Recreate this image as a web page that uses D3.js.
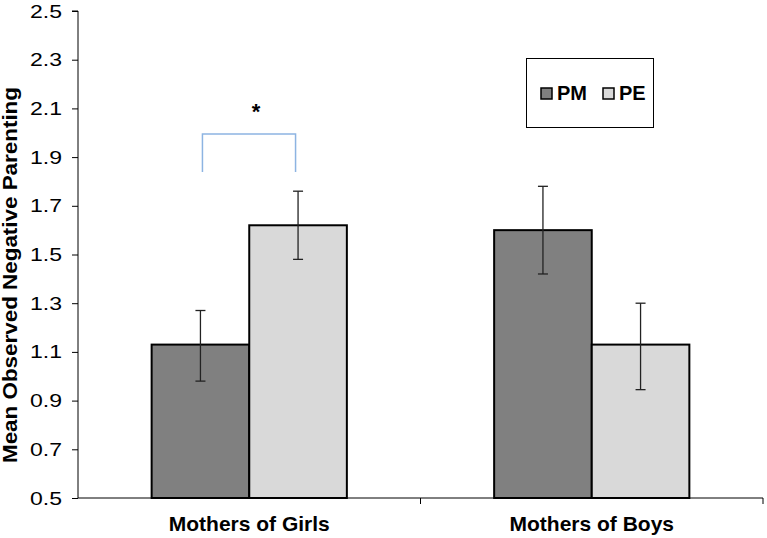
<!DOCTYPE html>
<html><head><meta charset="utf-8">
<script src="https://cdn.jsdelivr.net/npm/d3@7"></script>
<style>body{margin:0;background:#fff}svg{display:block}text{font-family:"Liberation Sans",Arial,sans-serif}</style>
</head><body><svg id="c" width="767" height="538"></svg>
<script>
const categories = ["Mothers of Girls", "Mothers of Boys"];
const seriesNames = ["PM", "PE"];
const pmValues = [1.13, 1.60];
const peValues = [1.62, 1.13];
const pmErrLow = [0.98, 1.42];
const pmErrHigh = [1.27, 1.78];
const peErrLow = [1.48, 0.945];
const peErrHigh = [1.76, 1.30];
const yTicks = [0.5, 0.7, 0.9, 1.1, 1.3, 1.5, 1.7, 1.9, 2.1, 2.3, 2.5];
const colors = ["#808080", "#d9d9d9"];

(function () {
const svg = d3.select("#c");
const mL = 78, mR = 763, mT = 11, mB = 498;
const y = d3.scaleLinear().domain([0.5, 2.5]).range([mB, mT]);
const x0 = d3.scaleBand().domain(categories).range([mL, mR]).paddingInner(0).paddingOuter(0);
const innerPad = 0.215;
const x1 = d3.scaleBand().domain(seriesNames).range([x0.bandwidth()*innerPad, x0.bandwidth()*(1-innerPad)]).padding(0);

const data = [];
categories.forEach((c, i) => {
  data.push({cat: c, s: "PM", v: pmValues[i], lo: pmErrLow[i], hi: pmErrHigh[i], col: colors[0]});
  data.push({cat: c, s: "PE", v: peValues[i], lo: peErrLow[i], hi: peErrHigh[i], col: colors[1]});
});

// bars
svg.append("g").selectAll("rect").data(data).join("rect")
  .attr("x", d => x0(d.cat) + x1(d.s))
  .attr("y", d => y(d.v))
  .attr("width", x1.bandwidth())
  .attr("height", d => y(0.5) - y(d.v))
  .attr("fill", d => d.col)
  .attr("stroke", "#000").attr("stroke-width", 2);

// error bars
const eb = svg.append("g").attr("stroke", "#222").attr("stroke-width", 1.3);
data.forEach(d => {
  const cx = x0(d.cat) + x1(d.s) + x1.bandwidth()/2;
  eb.append("line").attr("x1", cx).attr("x2", cx).attr("y1", y(d.lo)).attr("y2", y(d.hi));
  eb.append("line").attr("x1", cx-5).attr("x2", cx+5).attr("y1", y(d.lo)).attr("y2", y(d.lo));
  eb.append("line").attr("x1", cx-5).attr("x2", cx+5).attr("y1", y(d.hi)).attr("y2", y(d.hi));
});

// y axis
const yAxis = d3.axisLeft(y).tickValues(yTicks).tickFormat(d3.format(".1f")).tickSize(6).tickPadding(10);
const gy = svg.append("g").attr("transform", `translate(${mL},0)`).call(yAxis);
gy.select(".domain").attr("stroke", "#000").attr("d", `M-6,${mT}H0V${mB}`);
gy.selectAll(".tick line").attr("stroke", "#000");
gy.selectAll("text").attr("font-size", 19).attr("fill", "#000")
  .attr("font-family", "Liberation Sans, Arial, sans-serif")
  .attr("textLength", 32).attr("lengthAdjust", "spacingAndGlyphs");

// x axis
const gx = svg.append("g").attr("transform", `translate(0,${mB})`);
gx.append("line").attr("x1", mL).attr("x2", mR).attr("y1", 0).attr("y2", 0).attr("stroke", "#000");
[mL + x0.bandwidth(), mR].forEach(t => gx.append("line").attr("x1", t).attr("x2", t).attr("y1", 0).attr("y2", 6).attr("stroke", "#000"));
gx.selectAll("text.cat").data(categories).join("text").attr("class", "cat")
  .attr("x", d => x0(d) + x0.bandwidth()/2).attr("y", 33)
  .attr("text-anchor", "middle").attr("font-size", 21).attr("font-weight", "bold").text(d => d);

// y label
svg.append("text").attr("transform", "translate(17,275) rotate(-90)")
  .attr("text-anchor", "middle").attr("font-size", 20).attr("font-weight", "bold")
  .attr("textLength", 376).attr("lengthAdjust", "spacingAndGlyphs")
  .text("Mean Observed Negative Parenting");

// significance bracket
const gPMx = x0(categories[0]) + x1("PM") + x1.bandwidth()/2 + 2;
const gPEx = x0(categories[0]) + x1("PE") + x1.bandwidth()/2 - 2.5;
svg.append("path").attr("d", `M${gPMx},172V134H${gPEx}V172`).attr("fill", "none")
  .attr("stroke", "#8db4e2").attr("stroke-width", 1.5);
svg.append("text").attr("x", 256).attr("y", 119).attr("text-anchor", "middle")
  .attr("font-size", 22).attr("font-weight", "bold").text("*");

// legend
const lg = svg.append("g");
lg.append("rect").attr("x", 526.5).attr("y", 58.5).attr("width", 127).attr("height", 69)
  .attr("fill", "#fff").attr("stroke", "#000").attr("stroke-width", 1);
const legX = [541, 603];
seriesNames.forEach((s, i) => {
  lg.append("rect").attr("x", legX[i]).attr("y", 88).attr("width", 11).attr("height", 11)
    .attr("fill", colors[i]).attr("stroke", "#000").attr("stroke-width", 1.5);
  lg.append("text").attr("x", legX[i] + 16).attr("y", 99.5).attr("font-size", 20).attr("font-weight", "bold").text(s);
});
})();
</script></body></html>
